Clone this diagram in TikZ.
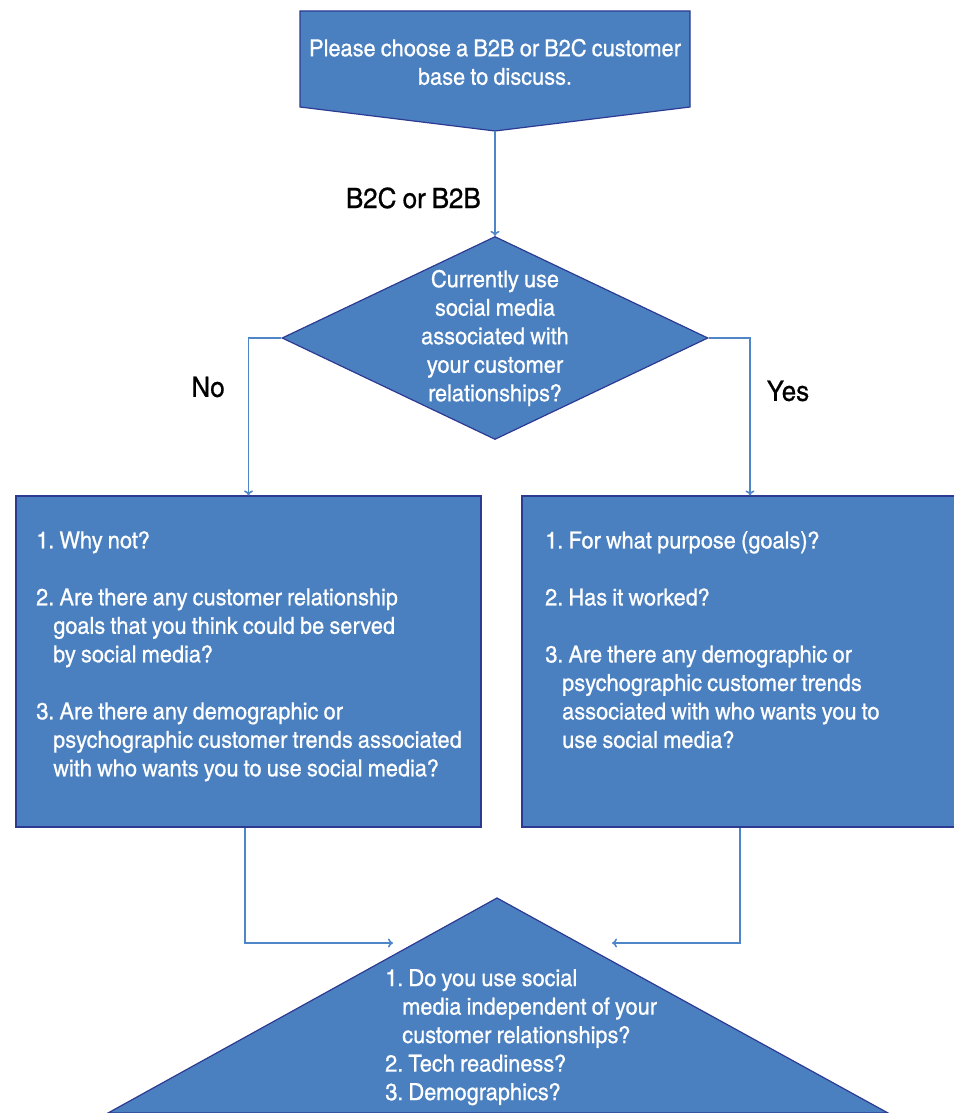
\documentclass[tikz,border=0pt]{standalone}
\usepackage{fontspec}
\setmainfont{texgyreheroscn-regular.otf}[FakeStretch=1.13,FakeBold=0.6,WordSpace=0.85]
\frenchspacing
\usetikzlibrary{shapes.geometric,arrows.meta}
\definecolor{boxblue}{RGB}{74,128,192}
\definecolor{edgeblue}{RGB}{45,58,145}
\definecolor{lineblue}{RGB}{78,134,200}
\tikzset{
  block/.style={fill=boxblue,draw=edgeblue,line width=1.2pt},
  intext/.style={text=white,inner sep=0pt,font=\fontsize{23.5}{28.5}\selectfont},
  lbl/.style={inner sep=0pt,font=\fontsize{28}{32}\selectfont},
  link/.style={draw=lineblue,line width=1.6pt,-{To[length=5pt,width=9pt]}}
}
\begin{document}
\begin{tikzpicture}[x=1pt,y=-1pt]
  \useasboundingbox (0,0) rectangle (953,1113);
  %% start
  \coordinate (tip) at (495,131);
  \draw[block] (300,11) -- (690,11) -- (690,107) -- (tip) -- (300,107) -- cycle;
  \node[intext,align=center] (start) at (495,62) {Please choose a B2B or B2C customer\\base to discuss.};
  %% question
  \node[block,diamond,minimum width=426pt,minimum height=203pt,inner sep=0pt] (ask) at (495,338) {};
  \node[intext,align=center] (asktext) at (ask) {Currently use\\social media\\associated with\\your customer\\relationships?};
  \draw[link] (tip) -- (ask.north);
  \node[lbl,anchor=east] (kind) at (481,198) {B2C or B2B};
  %% answers
  \node[block,minimum width=465pt,minimum height=331pt,inner sep=0pt] (nobox) at (248.5,661.5) {};
  \node[block,minimum width=456pt,minimum height=331pt,inner sep=0pt] (yesbox) at (750,661.5) {};
  \node[intext,align=left,anchor=north west] (notext) at (36,531) {1. Why not?\\[28.5pt]
    2. Are there any customer relationship\\
    \hspace*{17pt}goals that you think could be served\\
    \hspace*{17pt}by social media?\\[28.5pt]
    3. Are there any demographic or\\
    \hspace*{17pt}psychographic customer trends associated\\
    \hspace*{17pt}with who wants you to use social media?};
  \node[intext,align=left,anchor=north west] (yestext) at (545,531) {1. For what purpose (goals)?\\[28.5pt]
    2. Has it worked?\\[28.5pt]
    3. Are there any demographic or\\
    \hspace*{17pt}psychographic customer trends\\
    \hspace*{17pt}associated with who wants you to\\
    \hspace*{17pt}use social media?};
  \draw[link] (ask.west) -| (nobox.north);
  \draw[link] (ask.east) -| (yesbox.north);
  \node[lbl] (no) at (208,387) {No};
  \node[lbl] (yes) at (788,391) {Yes};
  %% last step
  \coordinate (top) at (497,898);
  \draw[block] (top) -- (888,1113) -- (108,1113) -- cycle;
  \node[intext,align=left,anchor=north west] (lasttext) at (385,969) {1. Do you use social\\
    \hspace*{17pt}media independent of your\\
    \hspace*{17pt}customer relationships?\\
    2. Tech readiness?\\
    3. Demographics?};
  \coordinate (inl) at (393,943);
  \coordinate (inr) at (612,943);
  \draw[link] (nobox.south -| 245,0) |- (inl);
  \draw[link] (yesbox.south -| 740,0) |- (inr);
\end{tikzpicture}
\end{document}
